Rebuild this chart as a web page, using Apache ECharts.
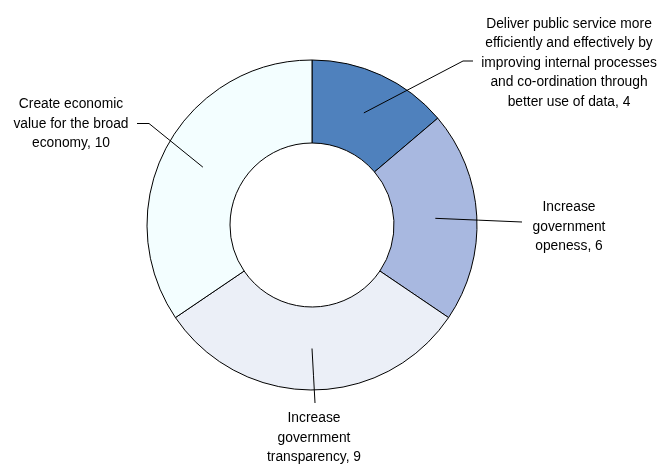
<!DOCTYPE html>
<html>
<head>
<meta charset="utf-8">
<script src="https://cdn.jsdelivr.net/npm/echarts@6/dist/echarts.min.js"></script>
<style>
  html, body { margin: 0; padding: 0; background: #ffffff; }
  #chart { width: 659px; height: 464px; }
</style>
</head>
<body>
<div id="chart"></div>
<script>
// Objectives of the open data programme and how many initiatives address each
const categories = [
  'Deliver public service more\nefficiently and effectively by\nimproving internal processes\nand co-ordination through\nbetter use of data',
  'Increase\ngovernment\nopeness',
  'Increase\ngovernment\ntransparency',
  'Create economic\nvalue for the broad\neconomy'
];
const values = [4, 6, 9, 10];
const sliceColors = ['#4F81BD', '#A8B8E0', '#EBEFF7', '#F3FEFF'];

// Label block centres and the bend / end of each leader line (pixels)
const labelPlacement = [
  { text: [569, 63],    bend: [463, 61],    end: [473, 61] },
  { text: [569, 227],   bend: null,         end: [522, 222] },
  { text: [314, 438],   bend: null,         end: [315, 403] },
  { text: [71, 124],    bend: [149, 123.5], end: [137, 123.5] }
];

const pieCenter = [312, 225];
const innerR = 82, outerR = 165;
const midR = (innerR + outerR) / 2;
const labelFont = "'Liberation Sans Narrow', 'Arial Narrow', 'Liberation Sans', Arial, sans-serif";

const sliceData = values.map((v, i) => ({
  name: categories[i],
  value: v,
  itemStyle: { color: sliceColors[i] }
}));

const chart = echarts.init(document.getElementById('chart'), null, { renderer: 'canvas' });

chart.setOption({
  animation: false,
  backgroundColor: '#ffffff',
  series: [
    {
      // the ring itself
      type: 'pie',
      z: 2,
      center: pieCenter,
      radius: [innerR, outerR],
      startAngle: 90,
      clockwise: true,
      silent: true,
      avoidLabelOverlap: false,
      itemStyle: { borderColor: '#000000', borderWidth: 1 },
      label: { show: false },
      labelLine: { show: false },
      emphasis: { disabled: true },
      data: sliceData
    },
    {
      // invisible pie out to mid-ring: its label lines start inside each slice
      type: 'pie',
      z: 5,
      center: pieCenter,
      radius: [0, midR],
      startAngle: 90,
      clockwise: true,
      silent: true,
      avoidLabelOverlap: false,
      itemStyle: { color: 'rgba(0,0,0,0)', borderWidth: 0 },
      emphasis: { disabled: true },
      label: {
        show: true,
        position: 'outside',
        formatter: '{b}, {c}',
        color: '#000000',
        fontFamily: labelFont,
        fontSize: 13.8,
        lineHeight: 19.5,
        align: 'center'
      },
      labelLine: {
        show: true,
        length: 10,
        length2: 10,
        lineStyle: { color: '#000000', width: 1 }
      },
      labelLayout: function (p) {
        const L = labelPlacement[p.dataIndex];
        let start = p.labelLinePoints && p.labelLinePoints[0];
        if (!start) {
          let acc = 0;
          for (let k = 0; k < p.dataIndex; k++) acc += values[k];
          const total = values.reduce((a, b) => a + b, 0);
          const ang = (acc + values[p.dataIndex] / 2) / total * 2 * Math.PI;
          start = [pieCenter[0] + midR * Math.sin(ang), pieCenter[1] - midR * Math.cos(ang)];
        }
        const bend = L.bend || [(start[0] + L.end[0]) / 2, (start[1] + L.end[1]) / 2];
        return {
          x: L.text[0],
          y: L.text[1],
          align: 'center',
          verticalAlign: 'middle',
          labelLinePoints: [[start[0], start[1]], bend, L.end]
        };
      },
      data: sliceData.map(d => ({ name: d.name, value: d.value }))
    }
  ]
});
</script>
</body>
</html>
